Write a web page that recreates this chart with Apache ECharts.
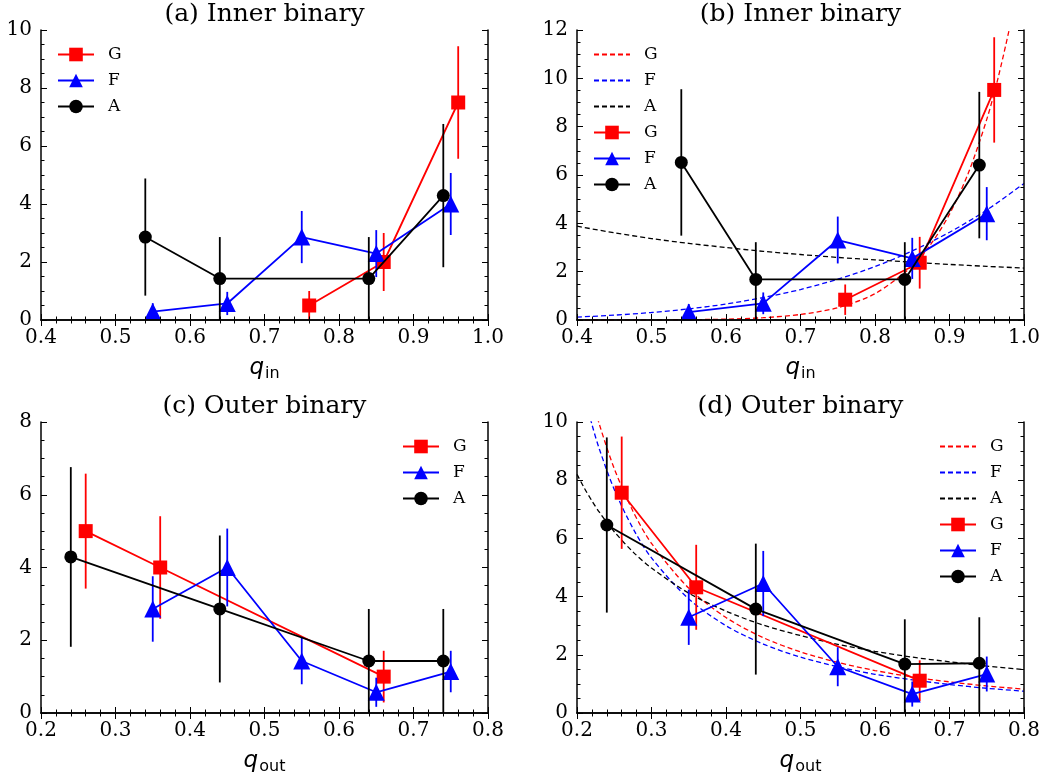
<!DOCTYPE html>
<html>
<head>
<meta charset="utf-8">
<script src="https://cdn.jsdelivr.net/npm/echarts@6/dist/echarts.min.js"></script>
<style>html,body{margin:0;padding:0;background:#fff}#c{width:1044px;height:780px}</style>
</head>
<body>
<div id="c"></div>
<script>
// ---------- Panel (a) Inner binary ----------
const aG_q = [0.76, 0.86, 0.96];
const aG_y = [0.50, 2.00, 7.50];
const aG_lo = [0.50, 1.00, 1.94];
const aG_hi = [0.50, 1.00, 1.94];
const aF_q = [0.55, 0.65, 0.75, 0.85, 0.95];
const aF_y = [0.29, 0.57, 2.86, 2.29, 4.00];
const aF_lo = [0.29, 0.40, 0.90, 0.81, 1.07];
const aF_hi = [0.29, 0.40, 0.90, 0.81, 1.07];
const aA_q = [0.54, 0.64, 0.84, 0.94];
const aA_y = [2.86, 1.43, 1.43, 4.29];
const aA_lo = [2.02, 1.43, 1.43, 2.47];
const aA_hi = [2.02, 1.43, 1.43, 2.47];

// ---------- Panel (b) Inner binary with fits ----------
const bG_q = [0.76, 0.86, 0.96];
const bG_y = [0.84, 2.37, 9.52];
const bG_lo = [0.63, 1.07, 2.18];
const bG_hi = [0.63, 1.07, 2.18];
const bF_q = [0.55, 0.65, 0.75, 0.85, 0.95];
const bF_y = [0.33, 0.69, 3.31, 2.55, 4.40];
const bF_lo = [0.33, 0.45, 0.97, 0.85, 1.10];
const bF_hi = [0.33, 0.45, 0.97, 0.85, 1.10];
const bA_q = [0.54, 0.64, 0.84, 0.94];
const bA_y = [6.52, 1.68, 1.68, 6.41];
const bA_lo = [3.03, 1.68, 1.68, 3.03];
const bA_hi = [3.03, 1.54, 1.54, 3.03];
const bGfit_q = [0.40, 0.45, 0.50, 0.55, 0.60, 0.65, 0.70, 0.75, 0.80, 0.85, 0.875, 0.90, 0.925, 0.95, 0.965, 0.98, 0.99];
const bGfit_y = [0.0003, 0.0012, 0.004, 0.013, 0.037, 0.095, 0.23, 0.51, 1.09, 2.23, 3.14, 4.38, 6.06, 8.30, 9.99, 12.0, 13.5];
const bFit_q = [0.40, 0.45, 0.50, 0.55, 0.60, 0.65, 0.70, 0.75, 0.80, 0.85, 0.90, 0.95, 1.00];
const bFfit_y = [0.12, 0.20, 0.31, 0.46, 0.66, 0.93, 1.26, 1.69, 2.21, 2.86, 3.63, 4.55, 5.65];
const bAfit_y = [3.88, 3.61, 3.37, 3.17, 3.00, 2.84, 2.71, 2.59, 2.49, 2.39, 2.30, 2.22, 2.15];

// ---------- Panel (c) Outer binary ----------
const cG_q = [0.26, 0.36, 0.66];
const cG_y = [5.00, 4.00, 1.00];
const cG_lo = [1.58, 1.41, 0.71];
const cG_hi = [1.58, 1.41, 0.71];
const cF_q = [0.35, 0.45, 0.55, 0.65, 0.75];
const cF_y = [2.86, 4.00, 1.43, 0.57, 1.14];
const cF_lo = [0.90, 1.07, 0.64, 0.40, 0.57];
const cF_hi = [0.90, 1.07, 0.64, 0.40, 0.57];
const cA_q = [0.24, 0.44, 0.64, 0.74];
const cA_y = [4.29, 2.86, 1.43, 1.43];
const cA_lo = [2.47, 2.02, 1.43, 1.43];
const cA_hi = [2.47, 2.02, 1.43, 1.43];

// ---------- Panel (d) Outer binary with fits ----------
const dG_q = [0.26, 0.36, 0.66];
const dG_y = [7.57, 4.32, 1.11];
const dG_lo = [1.93, 1.46, 0.70];
const dG_hi = [1.93, 1.46, 0.70];
const dF_q = [0.35, 0.45, 0.55, 0.65, 0.75];
const dF_y = [3.29, 4.45, 1.59, 0.65, 1.34];
const dF_lo = [0.95, 1.12, 0.67, 0.43, 0.60];
const dF_hi = [0.95, 1.12, 0.67, 0.43, 0.60];
const dA_q = [0.24, 0.44, 0.64, 0.74];
const dA_y = [6.46, 3.57, 1.68, 1.71];
const dA_lo = [3.01, 2.25, 1.68, 1.71];
const dA_hi = [3.01, 2.25, 1.54, 1.58];
const dFit_q = [0.20, 0.21, 0.22, 0.23, 0.25, 0.275, 0.30, 0.35, 0.40, 0.45, 0.50, 0.55, 0.60, 0.65, 0.70, 0.75, 0.80];
const dGfit_y = [13.1, 11.9, 10.85, 9.92, 8.40, 6.94, 5.83, 4.29, 3.28, 2.59, 2.10, 1.74, 1.46, 1.24, 1.07, 0.93, 0.82];
const dFfit_y = [12.0, 10.9, 9.92, 9.07, 7.68, 6.35, 5.33, 3.92, 3.00, 2.37, 1.92, 1.59, 1.33, 1.14, 0.98, 0.85, 0.75];
const dAfit_y = [8.20, 7.72, 7.29, 6.90, 6.23, 5.54, 4.98, 4.12, 3.50, 3.02, 2.66, 2.36, 2.12, 1.92, 1.76, 1.61, 1.49];

const titles = ['(a) Inner binary', '(b) Inner binary', '(c) Outer binary', '(d) Outer binary'];
const xLabelSub = ['in', 'in', 'out', 'out'];

const RED = '#ff0000', BLUE = '#0000ff', BLACK = '#000000';
const SERIF = 'DejaVu Serif';
const grids = [
  {left: 41, top: 30, width: 447, height: 290},
  {left: 577, top: 30, width: 447, height: 290},
  {left: 41, top: 422, width: 447, height: 291},
  {left: 577, top: 422, width: 447, height: 291}
];
const xRanges = [[0.4, 1.0], [0.4, 1.0], [0.2, 0.8], [0.2, 0.8]];
const yRanges = [[0, 10], [0, 12], [0, 8], [0, 10]];

const xAxes = [], yAxes = [];
grids.forEach((g, i) => {
  const common = {
    type: 'value', gridIndex: i, z: 20,
    axisLine: {show: true, lineStyle: {color: '#000', width: 1.5}},
    axisTick: {show: true, inside: true, length: 6, lineStyle: {color: '#000', width: 1}},
    minorTick: {show: true, length: 3.5, lineStyle: {color: '#000', width: 1}},
    splitLine: {show: false}
  };
  const xa = Object.assign({}, common, {
    min: xRanges[i][0], max: xRanges[i][1], interval: 0.1,
    minorTick: Object.assign({}, common.minorTick, {splitNumber: 5})
  });
  xAxes.push(Object.assign({}, xa, {
    position: 'bottom',
    axisLabel: {show: true, fontFamily: SERIF, fontSize: 20, color: '#000', margin: 8,
      formatter: v => v.toFixed(1)},
    name: '{q|q}{s|' + xLabelSub[i] + '}',
    nameLocation: 'middle', nameGap: 34,
    nameTextStyle: {rich: {
      q: {fontFamily: 'DejaVu Sans', fontStyle: 'italic', fontSize: 23, color: '#000'},
      s: {fontFamily: 'DejaVu Sans', fontSize: 16, color: '#000', padding: [12, 0, 0, 1]}
    }}
  }));
  xAxes.push(Object.assign({}, xa, {position: 'top', axisLabel: {show: false}}));
  const ya = Object.assign({}, common, {
    min: yRanges[i][0], max: yRanges[i][1], interval: 2,
    minorTick: Object.assign({}, common.minorTick, {splitNumber: 4})
  });
  yAxes.push(Object.assign({}, ya, {
    position: 'left',
    axisLabel: {show: true, fontFamily: SERIF, fontSize: 20, color: '#000', margin: 9}
  }));
  yAxes.push(Object.assign({}, ya, {position: 'right', axisLabel: {show: false}}));
});

const series = [];
function pts(q, y) { return q.map((v, k) => [v, y[k]]); }
function addData(panel, key, q, y, lo, hi, color, symbol, size, z) {
  series.push({
    type: 'custom', xAxisIndex: panel * 2, yAxisIndex: panel * 2, z: z, silent: true,
    clip: true,
    data: q.map((v, k) => [v, y[k] - lo[k], y[k] + hi[k]]),
    encode: {x: 0, y: [1, 2]},
    renderItem: function (params, api) {
      const p1 = api.coord([api.value(0), api.value(1)]);
      const p2 = api.coord([api.value(0), api.value(2)]);
      return {type: 'line', shape: {x1: p1[0], y1: p1[1], x2: p2[0], y2: p2[1]},
        style: {stroke: color, lineWidth: 1.8}};
    }
  });
  series.push({
    type: 'line', name: key, xAxisIndex: panel * 2, yAxisIndex: panel * 2, z: z + 1,
    data: pts(q, y), symbol: symbol, symbolSize: size, showSymbol: true,
    lineStyle: {color: color, width: 1.8}, itemStyle: {color: color},
    animation: false, silent: true, clip: true
  });
}
function addFit(panel, key, q, y, color) {
  series.push({
    type: 'line', name: key, xAxisIndex: panel * 2, yAxisIndex: panel * 2, z: 1,
    data: pts(q, y), symbol: 'none', showSymbol: false, smooth: 0.3,
    lineStyle: {color: color, width: 1.3, type: [5, 3]}, itemStyle: {color: color},
    animation: false, silent: true, clip: true
  });
}

// (a)
addData(0, 'aG', aG_q, aG_y, aG_lo, aG_hi, RED, 'rect', 14, 3);
addData(0, 'aF', aF_q, aF_y, aF_lo, aF_hi, BLUE, 'triangle', 17, 5);
addData(0, 'aA', aA_q, aA_y, aA_lo, aA_hi, BLACK, 'circle', 13, 7);
// (b)
addFit(1, 'bGd', bGfit_q, bGfit_y, RED);
addFit(1, 'bFd', bFit_q, bFfit_y, BLUE);
addFit(1, 'bAd', bFit_q, bAfit_y, BLACK);
addData(1, 'bG', bG_q, bG_y, bG_lo, bG_hi, RED, 'rect', 14, 3);
addData(1, 'bF', bF_q, bF_y, bF_lo, bF_hi, BLUE, 'triangle', 17, 5);
addData(1, 'bA', bA_q, bA_y, bA_lo, bA_hi, BLACK, 'circle', 13, 7);
// (c)
addData(2, 'cG', cG_q, cG_y, cG_lo, cG_hi, RED, 'rect', 14, 3);
addData(2, 'cF', cF_q, cF_y, cF_lo, cF_hi, BLUE, 'triangle', 17, 5);
addData(2, 'cA', cA_q, cA_y, cA_lo, cA_hi, BLACK, 'circle', 13, 7);
// (d)
addFit(3, 'dGd', dFit_q, dGfit_y, RED);
addFit(3, 'dFd', dFit_q, dFfit_y, BLUE);
addFit(3, 'dAd', dFit_q, dAfit_y, BLACK);
addData(3, 'dG', dG_q, dG_y, dG_lo, dG_hi, RED, 'rect', 14, 3);
addData(3, 'dF', dF_q, dF_y, dF_lo, dF_hi, BLUE, 'triangle', 17, 5);
addData(3, 'dA', dA_q, dA_y, dA_lo, dA_hi, BLACK, 'circle', 13, 7);

function legendItem(n) {
  // fit (dashed) entries: hide the default legend symbol, keep the dashed line
  if (n.length === 3) {
    return {name: n, itemStyle: {color: 'rgba(0,0,0,0)', opacity: 0, borderWidth: 0}};
  }
  return {name: n};
}
function legendCfg(names, left, top) {
  return {
    data: names.map(legendItem), left: left, top: top, orient: 'vertical', padding: 0,
    itemWidth: 36, itemHeight: 17, itemGap: 9, selectedMode: false,
    formatter: n => n.charAt(1),
    textStyle: {fontFamily: SERIF, fontSize: 17, color: '#000', padding: [0, 0, 0, 9]}
  };
}

const option = {
  backgroundColor: '#fff',
  animation: false,
  title: titles.map((t, i) => ({
    text: t, left: grids[i].left + grids[i].width / 2, top: i < 2 ? 2 : 394,
    textAlign: 'center', padding: 0,
    textStyle: {fontFamily: SERIF, fontSize: 25, fontWeight: 'normal', color: '#000'}
  })),
  grid: grids,
  xAxis: xAxes,
  yAxis: yAxes,
  legend: [
    legendCfg(['aG', 'aF', 'aA'], 57, 46),
    legendCfg(['bGd', 'bFd', 'bAd', 'bG', 'bF', 'bA'], 593, 46),
    legendCfg(['cG', 'cF', 'cA'], 402, 438),
    legendCfg(['dGd', 'dFd', 'dAd', 'dG', 'dF', 'dA'], 939, 438)
  ],
  series: series
};
const chart = echarts.init(document.getElementById('c'), null, {renderer: 'canvas'});
chart.setOption(option);
</script>
</body>
</html>
